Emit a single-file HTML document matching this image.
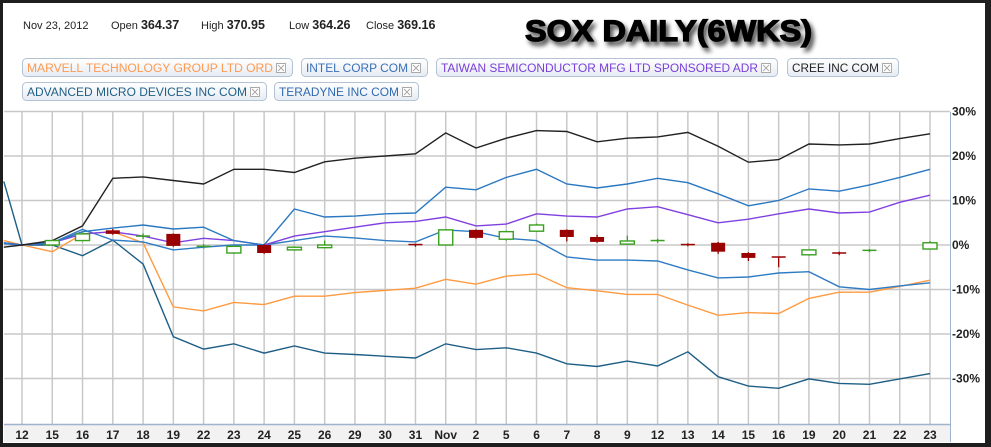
<!DOCTYPE html>
<html><head><meta charset="utf-8"><style>
body{margin:0;background:#222;}
svg{display:block;font-family:"Liberation Sans",Arial,sans-serif;}
</style></head><body>
<svg id="chart" width="991" height="447" viewBox="0 0 991 447">
<defs>
<linearGradient id="lg" x1="0" y1="0" x2="0" y2="1"><stop offset="0" stop-color="#ffffff"/><stop offset="1" stop-color="#e6ecf4"/></linearGradient>
<filter id="sh" x="-10%" y="-30%" width="130%" height="180%"><feGaussianBlur in="SourceAlpha" stdDeviation="2.5"/><feOffset dx="3" dy="4"/><feComponentTransfer><feFuncA type="linear" slope="0.7"/></feComponentTransfer><feMerge><feMergeNode/><feMergeNode in="SourceGraphic"/></feMerge></filter>
</defs>
<rect x="0" y="0" width="991" height="447" fill="#1e1e1e"/>
<rect x="3" y="3" width="982" height="440" fill="#ffffff"/>
<g font-size="11" fill="#222">
<text x="23" y="29">Nov 23, 2012</text>
<text x="111" y="29">Open <tspan font-size="12.5" font-weight="bold">364.37</tspan></text>
<text x="201" y="29">High <tspan font-size="12.5" font-weight="bold">370.95</tspan></text>
<text x="289" y="29">Low <tspan font-size="12.5" font-weight="bold">364.26</tspan></text>
<text x="366" y="29">Close <tspan font-size="12.5" font-weight="bold">369.16</tspan></text>
</g>
<text x="525" y="41" font-size="30" font-weight="bold" textLength="287" lengthAdjust="spacingAndGlyphs" fill="#000" stroke="#000" stroke-width="1.3" filter="url(#sh)">SOX DAILY(6WKS)</text>
<g id="legend"></g>
<g id="grid"></g>
<g id="plot"></g>
<rect x="4" y="424" width="946" height="18" fill="#f2f2f2"/>
<line x1="4" y1="424.5" x2="950" y2="424.5" stroke="#9fb3cc" stroke-width="1.5"/>
<line x1="950.5" y1="112" x2="950.5" y2="442" stroke="#9fb3cc"/>
<g id="axes"></g>
</svg>
<script>
const categories=["12","15","16","17","18","19","22","23","24","25","26","29","30","31","Nov","2","5","6","7","8","9","12","13","14","15","16","19","20","21","22","23"];
const yTicks=[30,20,10,0,-10,-20,-30];
// first value is the prior-day point at left edge
const cree=[-0.5,0,1,4.3,15,15.3,14.5,13.7,17,17,16.3,18.7,19.5,20,20.5,25.2,21.8,24,25.7,25.5,23.2,24,24.3,25.3,22.2,18.6,19.2,22.7,22.5,22.7,23.9,25];
const intel=[0.5,0,0.5,3,3.8,4.5,3.6,4,1,0,8.1,6.3,6.5,7,7.2,13,12.4,15.2,17,13.7,12.8,13.7,15,14,11.5,8.8,10,12.6,12.1,13.5,15.2,17];
const taiwan=[0.5,0,0.5,2.5,3,2,0.5,1.5,1,0,2,3,4,5,5.3,6.3,4.3,4.7,7,6.5,6.3,8.1,8.6,6.8,5,5.8,7,8.1,7.2,7.4,9.6,11.2];
const teradyne=[0.3,0,0.5,3.5,1.1,0.7,-1.1,-0.5,0,0,1,2,1.6,1,0.7,3.4,3,1.5,1,-2.7,-3.4,-3.4,-3.6,-5.6,-7.4,-7.2,-6.3,-6,-9.4,-10,-9.2,-8.5];
const marvell=[1,0,-1.5,2.5,3,0.5,-13.9,-14.8,-12.9,-13.4,-11.5,-11.5,-10.7,-10.2,-9.7,-7.7,-8.8,-7,-6.5,-9.6,-10.3,-11.1,-11.1,-13.5,-15.8,-15.2,-15.4,-12,-10.6,-10.6,-9.3,-7.9];
const amd=[14.3,0,0,-2.4,1.1,-4.3,-20.6,-23.4,-22.2,-24.3,-22.7,-24.3,-24.6,-25,-25.4,-22.2,-23.5,-23.1,-24.3,-26.7,-27.3,-26.1,-27.2,-24,-29.6,-31.7,-32.2,-30.1,-31.1,-31.3,-30.1,-28.9];
// candles per category (null = no candle)
const candOpen=[null,0,1,3.3,2,2.5,-0.3,-1.8,0,-1.1,-0.6,null,null,0.1,0,3.4,1.3,3.1,3.4,1.8,0.2,1,0.1,0.5,-1.8,-2.7,-2.2,-1.8,-1.3,null,-0.9];
const candClose=[null,1,2.5,2.5,2,-0.2,-0.3,-0.3,-1.8,-0.5,0,null,null,-0.1,3.4,1.6,3,4.5,1.8,0.7,0.9,1,-0.1,-1.5,-2.9,-2.8,-1.1,-1.9,-1.2,null,0.5];
const candHigh=[null,1.2,2.8,3.6,2.6,2.6,0.2,-0.2,0.2,-0.3,1,null,null,0.3,3.5,3.5,3.2,4.8,3.5,2.3,2.1,1.4,0.4,0.7,-1.6,-2.6,-1,-1.5,-0.9,null,0.9];
const candLow=[null,-0.2,0.8,2.3,1.4,-0.4,-0.8,-2,-2,-1.3,-0.3,null,null,-0.4,-0.1,1.4,1,3,0.8,0.5,0,0.5,-0.3,-2,-3.6,-5,-2.4,-2.3,-1.6,null,-1];

const NS="http://www.w3.org/2000/svg";
const X0=22,X1=930,Y0=245,PY=4.45;
function xScale(i){return X0+i*(X1-X0)/(categories.length-1);}
function xSeries(j){return j===0?xScale(-0.6):xScale(j-1);}
function yScale(v){return Y0-v*PY;}
function mk(tag,attrs,parent){const e=document.createElementNS(NS,tag);for(const k in attrs)e.setAttribute(k,attrs[k]);parent.appendChild(e);return e;}

const grid=document.getElementById('grid'),plot=document.getElementById('plot'),axes=document.getElementById('axes'),legend=document.getElementById('legend');
categories.forEach((c,i)=>{
  const l=mk('line',{x1:xScale(i),x2:xScale(i),y1:112,y2:424,stroke:'#c8c8c8','stroke-width':1.5},grid);
  
  
  const t=mk('text',{x:xScale(i),y:439,'text-anchor':'middle','font-size':12,'font-weight':'bold',fill:'#222'},axes);
  t.textContent=c;
  
  
});
yTicks.forEach(v=>{
  const l=mk('line',{x1:4,x2:950,y1:yScale(v),y2:yScale(v),stroke:'#c8c8c8','stroke-width':1.5},grid);
  
  
  const t=mk('text',{x:952,y:yScale(v)+4,'font-size':12,'font-weight':'bold',fill:'#222'},axes);
  t.textContent=v+'%';
  
  
});
const series=[[amd,'#1f5f86','amd-line'],[marvell,'#ff9a40','marvell-line'],[teradyne,'#2f7cc4','teradyne-line'],[taiwan,'#8040e0','taiwan-line'],[intel,'#2a78c2','intel-line'],[cree,'#222222','cree-line']];
series.forEach(([d,col,name])=>{
  const pts=d.map((v,j)=>xSeries(j).toFixed(1)+','+yScale(v).toFixed(1)).join(' ');
  const p=mk('polyline',{points:pts,fill:'none',stroke:col,'stroke-width':1.4},plot);
  
  
});
candOpen.forEach((o,i)=>{
  if(o===null)return;
  const c=candClose[i],up=c>=o,col=up?'#3aa020':'#990000',x=xScale(i);
  const g=mk('g',{},plot);
  
  
  mk('line',{x1:x,x2:x,y1:yScale(candHigh[i]),y2:yScale(candLow[i]),stroke:col,'stroke-width':1.3},g);
  const top=yScale(Math.max(o,c)),h=Math.max(Math.abs(yScale(o)-yScale(c)),1);
  if(h<=1.5) mk('line',{x1:x-7,x2:x+7,y1:top,y2:top,stroke:col,'stroke-width':1.5},g);
  else if(up) mk('rect',{x:x-7,y:top,width:14,height:h,fill:'#fff',stroke:col,'stroke-width':1.4},g);
  else mk('rect',{x:x-7,y:top,width:14,height:h,fill:col},g);
});
const leg=[["MARVELL TECHNOLOGY GROUP LTD ORD",'#ff9a50',22,58,270],["INTEL CORP COM",'#3a70b8',301,58,126],["TAIWAN SEMICONDUCTOR MFG LTD SPONSORED ADR",'#7a40d8',436,58,341],["CREE INC COM",'#222',787,58,111],["ADVANCED MICRO DEVICES INC COM",'#1f5f86',22,82,244],["TERADYNE INC COM",'#2f6ab0',274,82,144]];
leg.forEach(([txt,col,x,y,w])=>{
  const g=mk('g',{},legend);
  
  
  mk('rect',{x:x+0.5,y:y+0.5,width:w,height:18,rx:4,fill:'url(#lg)',stroke:'#b4c2d4'},g);
  const t=mk('text',{x:x+5,y:y+14,'font-size':11.5,fill:col,textLength:w-24,lengthAdjust:'spacingAndGlyphs'},g);
  t.textContent=txt;
  const b=mk('g',{},g);
  
  
  mk('rect',{x:x+w-15.5,y:y+5.5,width:9,height:9,fill:'#fff',stroke:'#aaa'},b);
  mk('path',{d:`M${x+w-14} ${y+7}l6 6M${x+w-8} ${y+7}l-6 6`,stroke:'#aaa','stroke-width':1},b);
});
</script>
</body></html>
